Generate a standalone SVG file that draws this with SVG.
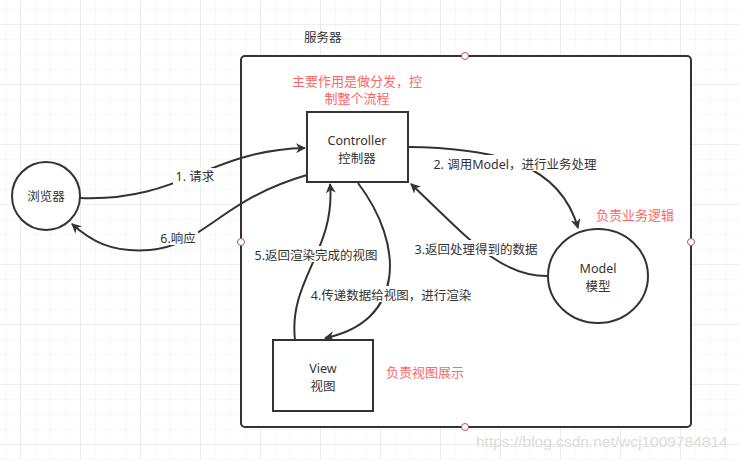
<svg xmlns="http://www.w3.org/2000/svg" width="739" height="460" viewBox="0 0 739 460">
<defs>
<pattern id="minor" x="5" y="9" width="15" height="15" patternUnits="userSpaceOnUse">
<path d="M0 0 H15 M0 0 V15" fill="none" stroke="#f1f1f1" stroke-width="1"/>
</pattern>
<pattern id="major" x="20" y="24" width="60" height="60" patternUnits="userSpaceOnUse">
<path d="M0 0 H60 M0 0 V60" fill="none" stroke="#e3e3e3" stroke-width="1.2"/>
</pattern>
<marker id="arr" viewBox="0 0 10 10" refX="9" refY="5" markerWidth="10" markerHeight="10" markerUnits="userSpaceOnUse" orient="auto">
<path d="M0,0 L10,5 L0,10 L3,5 z" fill="#333"/>
</marker>
</defs>
<style>
.t{font-family:"Noto Sans","Noto Sans CJK SC",sans-serif;font-size:12.5px;fill:#333;}
.r{font-family:"Noto Sans","Noto Sans CJK SC",sans-serif;font-size:13px;fill:#ff6666;}
.node{fill:#fff;stroke:#333;stroke-width:2;}
.edge{fill:none;stroke:#333;stroke-width:2;}
.lbl{fill:#fff;}
.pt{fill:#fff;stroke:#b85450;stroke-width:1;}
</style>
<rect width="739" height="460" fill="#fff"/>
<rect width="739" height="460" fill="url(#minor)"/>
<rect width="739" height="460" fill="url(#major)"/>

<text class="t" x="304" y="42">服务器</text>

<g id="server">
<rect class="node" x="241" y="56" width="450" height="371" rx="4"/>
<circle class="pt" cx="465" cy="56" r="3.5"/>
<circle class="pt" cx="241" cy="242" r="3.5"/>
<circle class="pt" cx="691" cy="242" r="3.5"/>
<circle class="pt" cx="465" cy="427" r="3.5"/>
</g>

<text class="r" x="357" y="86" text-anchor="middle">主要作用是做分发，控</text>
<text class="r" x="357" y="103" text-anchor="middle">制整个流程</text>
<text class="r" x="596" y="220">负责业务逻辑</text>
<text class="r" x="386" y="377">负责视图展示</text>

<g id="connectors">
<path class="edge" d="M80 198 C180 202 210 150 305 148" marker-end="url(#arr)"/>
<path class="edge" d="M307 175 C220 200 205 245 150 250 C110 253 90 240 72 224" marker-end="url(#arr)"/>
<path class="edge" d="M408 147 C500 148 560 165 578 228" marker-end="url(#arr)"/>
<path class="edge" d="M547 276 C500 276 470 240 411 184" marker-end="url(#arr)"/>
<path class="edge" d="M358 183 C405 245 405 322 325 338" marker-end="url(#arr)"/>
<path class="edge" d="M295 340 C288 280 336 250 330 184" marker-end="url(#arr)"/>

<rect class="lbl" x="173" y="168" width="44" height="16"/>
<text class="t" x="195" y="181" text-anchor="middle">1. 请求</text>
<rect class="lbl" x="158" y="229" width="40" height="16"/>
<text class="t" x="178" y="243" text-anchor="middle">6.响应</text>
<rect class="lbl" x="428" y="155" width="175" height="16"/>
<text class="t" x="515" y="169" text-anchor="middle">2. 调用Model，进行业务处理</text>
<rect class="lbl" x="411" y="240" width="131" height="16"/>
<text class="t" x="476" y="254" text-anchor="middle">3.返回处理得到的数据</text>
<rect class="lbl" x="251" y="246" width="131" height="16"/>
<text class="t" x="316" y="260" text-anchor="middle">5.返回渲染完成的视图</text>
<rect class="lbl" x="305" y="286" width="172" height="16"/>
<text class="t" x="391" y="300" text-anchor="middle">4.传递数据给视图，进行渲染</text>
</g>

<g id="browser">
<circle class="node" cx="46" cy="196" r="34"/>
<text class="t" x="46" y="201" text-anchor="middle">浏览器</text>
</g>

<g id="controller">
<rect class="node" x="307" y="112" width="101" height="70"/>
<text class="t" x="357" y="145" text-anchor="middle">Controller</text>
<text class="t" x="357" y="163" text-anchor="middle">控制器</text>
</g>

<g id="model">
<ellipse class="node" cx="598" cy="276" rx="50" ry="47"/>
<text class="t" x="598" y="273" text-anchor="middle">Model</text>
<text class="t" x="598" y="291" text-anchor="middle">模型</text>
</g>

<g id="view">
<rect class="node" x="273" y="340" width="100" height="71"/>
<text class="t" x="323" y="373" text-anchor="middle">View</text>
<text class="t" x="323" y="391" text-anchor="middle">视图</text>
</g>

<text x="476" y="447" font-family="Liberation Sans, sans-serif" font-size="15.5" fill="#dcdcdc">https://blog.csdn.net/wcj1009784814</text>
</svg>
